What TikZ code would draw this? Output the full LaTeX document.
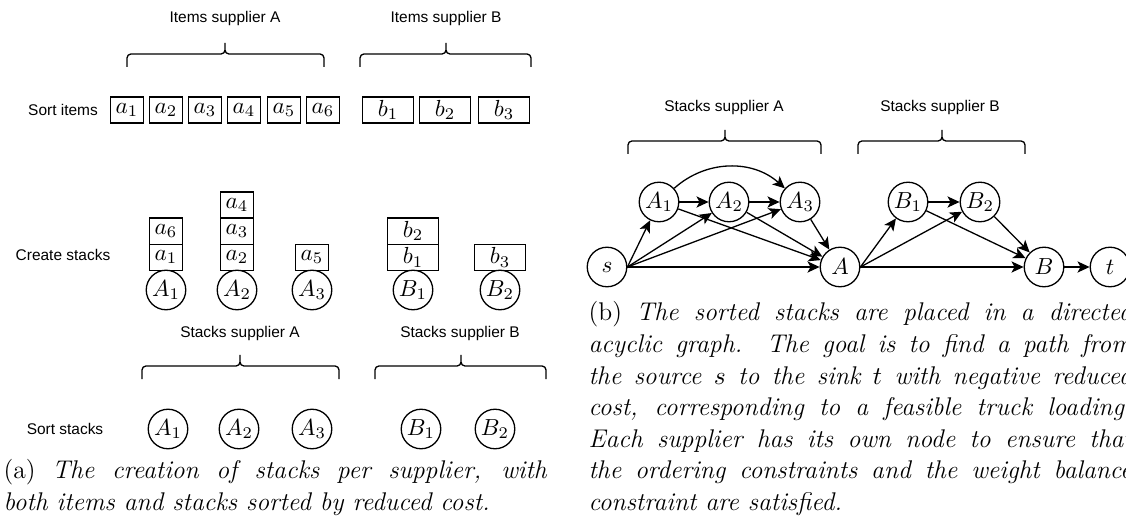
\documentclass[tikz,border=0pt]{standalone}
\usepackage{fontspec}
\usepackage{amsmath}
\newfontfamily\etiq{Liberation Sans}
\usetikzlibrary{arrows.meta}

\begin{document}
\begin{tikzpicture}[x=0.43pt,y=-0.43pt,line width=0.56pt,>={Stealth[length=5.2pt,width=4.8pt,inset=1.3pt]},
  etiqueta/.style={font=\etiq\fontsize{6.65}{8}\selectfont,inner sep=0},
  caja/.style={draw,minimum width=14pt,minimum height=11.2pt,inner sep=0,outer sep=0},
  cajab/.style={caja,minimum width=21.7pt},
  nodo/.style={draw,circle,minimum size=17pt,inner sep=0},
  leyenda/.style={anchor=north west,text width=233.5pt,inner sep=0,align=justify,
    font=\fontsize{11}{13.6}\selectfont}]
  \useasboundingbox (0,0) rectangle (1126,525);
  \clip (0,0) rectangle (1126,525);
  % llaves
  \foreach \xa/\xm/\xb/\ya in {127/225/324/43, 360/446/531/43, 142/240/339/355,
      375/461/546/355, 628/725/821/130, 858/942/1025/130}
    \draw[rounded corners=1.7pt] (\xa,\ya+24) -- (\xa,\ya+11) -- (\xm,\ya+11) -- (\xm,\ya)
      (\xb,\ya+24) -- (\xb,\ya+11) -- (\xm,\ya+11) -- (\xm,\ya);
  % etiquetas
  \node[etiqueta] (itA) at (225,19) {Items supplier A};
  \node[etiqueta] (itB) at (446,19) {Items supplier B};
  \node[etiqueta] (orden) at (63,110) {Sort items};
  \node[etiqueta] (crear) at (63,255) {Create stacks};
  \node[etiqueta] (stA) at (240,334) {Stacks supplier A};
  \node[etiqueta] (stB) at (460,334) {Stacks supplier B};
  \node[etiqueta] (ordpil) at (65,429) {Sort stacks};
  \node[etiqueta] (grA) at (724,108) {Stacks supplier A};
  \node[etiqueta] (grB) at (940,108) {Stacks supplier B};
  % articulos
  \foreach \i/\x in {1/127,2/166,3/205,4/244,5/284,6/323}
    \node[caja] (a\i) at (\x,110) {$a_\i$};
  \foreach \i/\x in {1/388,2/445,3/504}
    \node[cajab] (b\i) at (\x,110) {$b_\i$};
  % pilas
  \foreach \n/\l/\x in {cA1/A_1/166, cA2/A_2/237, cA3/A_3/312, cB1/B_1/413, cB2/B_2/500}
    \node[nodo,outer sep=0] (\n) at (\x,290) {$\l$};
  \node[caja,anchor=south] (pa1) at (cA1.north) {$a_1$};
  \node[caja,anchor=south] (pa6) at (pa1.north) {$a_6$};
  \node[caja,anchor=south] (pa2) at (cA2.north) {$a_2$};
  \node[caja,anchor=south] (pa3) at (pa2.north) {$a_3$};
  \node[caja,anchor=south] (pa4) at (pa3.north) {$a_4$};
  \node[caja,anchor=south] (pa5) at (cA3.north) {$a_5$};
  \node[cajab,anchor=south] (pb1) at (cB1.north) {$b_1$};
  \node[cajab,anchor=south] (pb2) at (pb1.north) {$b_2$};
  \node[cajab,anchor=south] (pb3) at (cB2.north) {$b_3$};
  % pilas ordenadas
  \foreach \n/\l/\x in {oA1/A_1/168, oA2/A_2/239, oA3/A_3/312, oB1/B_1/421, oB2/B_2/495}
    \node[nodo] (\n) at (\x,429) {$\l$};
  % grafo
  \foreach \n/\l/\x/\y in {s/s/607/267, A1/A_1/659/202, A2/A_2/729/202, A3/A_3/800/202,
      A/A/840/267, B1/B_1/908/202, B2/B_2/980/202, B/B/1044/267, t/t/1110/267}
    \node[nodo] (g\n) at (\x,\y) {$\l$};
  \foreach \v in {A1,A2,A3,A} \draw[->] (gs.east) -- (g\v);
  \foreach \v in {B1,B2,B} \draw[->] (gA.east) -- (g\v);
  \foreach \u/\v in {A1/A2,A2/A3,A1/A,A2/A,A3/A,B1/B2,B1/B,B2/B,B/t}
    \draw[->] (g\u) -- (g\v);
  \draw[->] (gA1) to[bend left=42] (gA3);
  % leyendas
  \node[leyenda] (leyA) at (3,459) {(a) \textit{The creation of stacks per supplier, with\linebreak
    both items and stacks sorted by reduced cost.}};
  \node[leyenda] (leyB) at (588,301) {(b) \textit{The sorted stacks are placed in a directed\linebreak
    acyclic graph. The goal is to find a path from\linebreak
    the source $s$ to the sink $t$ with negative reduced\linebreak
    cost, corresponding to a feasible truck loading.\linebreak
    Each supplier has its own node to ensure that\linebreak
    the ordering constraints and the weight balance\linebreak
    constraint are satisfied.}};
\end{tikzpicture}
\end{document}
